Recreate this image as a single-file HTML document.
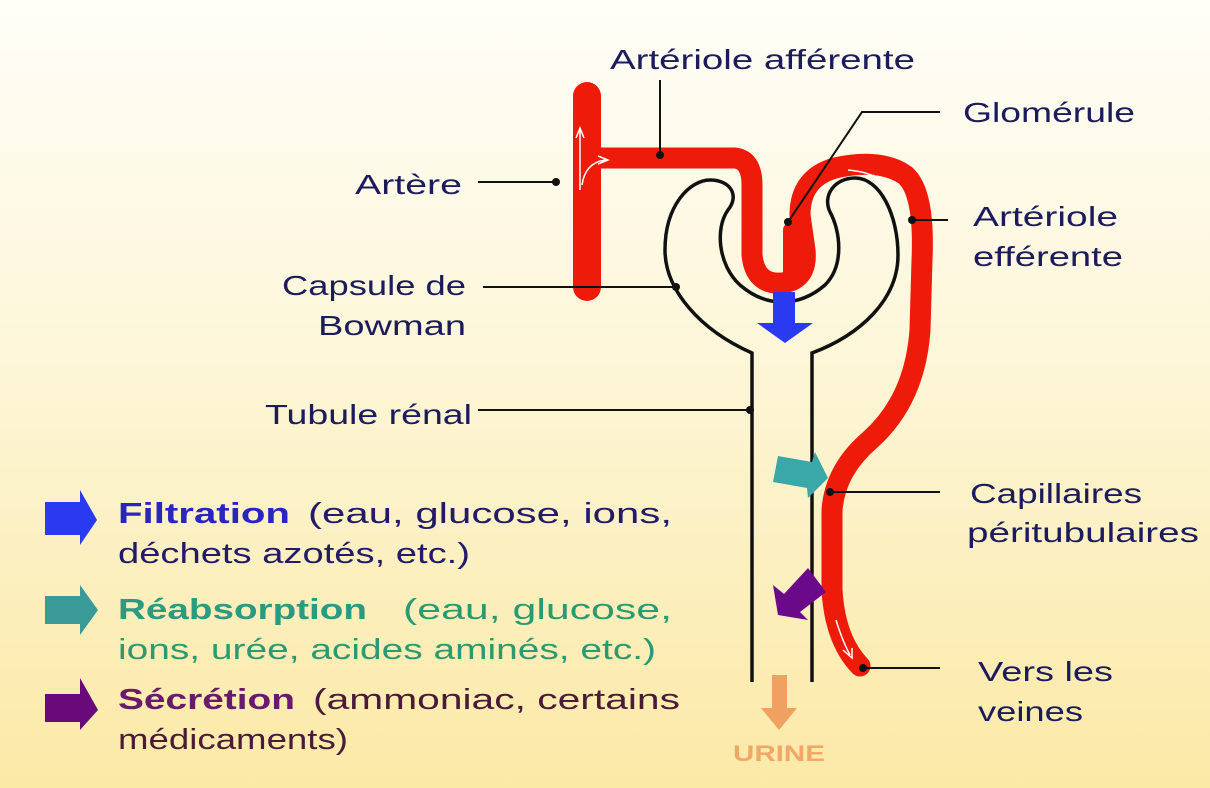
<!DOCTYPE html>
<html><head><meta charset="utf-8"><style>
html,body{margin:0;padding:0;}
body{width:1210px;height:788px;overflow:hidden;background:linear-gradient(#fffef8 0%,#fdf6d8 45%,#fbe9a6 100%);}
svg{display:block;}
text{font-family:"Liberation Sans","DejaVu Sans",sans-serif;}
</style></head><body>
<svg width="1210" height="788" viewBox="0 0 1210 788">
<g fill="#1c1c5c" font-size="28">
<text x="610" y="69" textLength="305" lengthAdjust="spacingAndGlyphs">Artériole afférente</text>
<text x="963" y="122" textLength="172" lengthAdjust="spacingAndGlyphs">Glomérule</text>
<text x="355" y="194" textLength="107" lengthAdjust="spacingAndGlyphs">Artère</text>
<text x="973" y="226" textLength="145" lengthAdjust="spacingAndGlyphs">Artériole</text>
<text x="973" y="266" textLength="150" lengthAdjust="spacingAndGlyphs">efférente</text>
<text x="282" y="295" textLength="184" lengthAdjust="spacingAndGlyphs">Capsule de</text>
<text x="318" y="335" textLength="148" lengthAdjust="spacingAndGlyphs">Bowman</text>
<text x="265" y="424" textLength="207" lengthAdjust="spacingAndGlyphs">Tubule rénal</text>
<text x="970" y="503" textLength="172" lengthAdjust="spacingAndGlyphs">Capillaires</text>
<text x="967" y="542" textLength="232" lengthAdjust="spacingAndGlyphs">péritubulaires</text>
<text x="978" y="681" textLength="135" lengthAdjust="spacingAndGlyphs">Vers les</text>
<text x="978" y="721" textLength="105" lengthAdjust="spacingAndGlyphs">veines</text>
</g>
<g fill="none" stroke="#ee1a0a" stroke-linecap="round" stroke-linejoin="round">
<line x1="587" y1="96" x2="587" y2="287" stroke-width="28"/>
<path d="M595,158 L735,158 Q752,160 752,185 L752,255 Q755,285 782,283 Q808,280 805,250 L800,215 Q800,178 835,168 Q880,158 905,175 Q925,192 922,260 L920,330 Q915,400 870,440 Q835,470 832,510 L832,590 Q835,640 860,666" stroke-width="21"/>
<path d="M790,280 L790,230" stroke-width="14"/>
</g>
<g fill="none" stroke="#fff" stroke-width="1.5">
<path d="M580,190 L580,130 M576,138 L580,128 L584,138"/>
<path d="M582,185 Q585,163 605,160 M598,156 L608,160 L598,164"/>
<path d="M848,170 Q870,172 880,180 M873,175 L882,182 L872,184"/>
<path d="M836,620 Q842,640 850,655 M843,650 L852,658 L852,648"/>
</g>
<path d="M752,682 L752,353 C700,330 665,290 665,250 C665,205 690,180 710,180 C730,180 740,195 728,210 C715,228 718,265 740,285 C755,298 770,302 782,302 C795,302 810,298 825,285 C845,265 840,230 830,212 C822,195 835,178 855,178 C880,178 898,215 898,255 C898,300 860,335 812,353 L812,682" fill="none" stroke="#111" stroke-width="3.5"/>
<polygon points="773,292 795,292 795,323 813,323 785,343 757,323 773,323" fill="#2a3af0"/>
<polygon points="778,456 812,462 815,452 828,478 808,498 807,488 773,482" fill="#3aa8a8"/>
<polygon points="808,568 826,592 800,612 808,620 778,615 773,585 784,594" fill="#6a0a8a"/>
<polygon points="772,675 787,675 787,708 797,708 779,730 761,708 772,708" fill="#f0a060"/>
<text x="779" y="761" text-anchor="middle" font-size="22" font-weight="bold" fill="#f0a868" textLength="92" lengthAdjust="spacingAndGlyphs">URINE</text>
<g stroke="#111" stroke-width="2" fill="none">
<line x1="660" y1="80" x2="660" y2="155"/>
<polyline points="940,112 862,112 788,222"/>
<line x1="478" y1="182" x2="556" y2="182"/>
<line x1="948" y1="220" x2="912" y2="220"/>
<line x1="483" y1="287" x2="676" y2="287"/>
<line x1="478" y1="410" x2="750" y2="410"/>
<line x1="940" y1="492" x2="830" y2="492"/>
<line x1="940" y1="668" x2="863" y2="668"/>
</g>
<g fill="#111">
<circle cx="660" cy="155" r="4"/><circle cx="788" cy="222" r="4"/><circle cx="556" cy="182" r="4"/>
<circle cx="912" cy="220" r="4"/><circle cx="676" cy="287" r="4"/><circle cx="750" cy="410" r="4"/>
<circle cx="830" cy="492" r="4"/><circle cx="863" cy="668" r="4"/>
</g>
<polygon points="45,502 80,502 80,490 97,520 80,545 80,535 45,535" fill="#2a3af0"/>
<polygon points="45,596 80,596 80,585 98,610 80,635 80,624 45,624" fill="#3a9a98"/>
<polygon points="45,694 80,694 80,678 98,710 80,730 80,722 45,722" fill="#6a0a7a"/>
<g font-size="29">
<text x="118" y="523" font-weight="bold" fill="#2a24c0" textLength="172" lengthAdjust="spacingAndGlyphs">Filtration</text>
<text x="308" y="523" fill="#241a6a" textLength="364" lengthAdjust="spacingAndGlyphs">(eau,   glucose,   ions,</text>
<text x="118" y="563" fill="#241a6a" textLength="352" lengthAdjust="spacingAndGlyphs">déchets azotés, etc.)</text>
<text x="118" y="619" font-weight="bold" fill="#2a9a80" textLength="249" lengthAdjust="spacingAndGlyphs">Réabsorption</text>
<text x="403" y="619" fill="#2a9a70" textLength="269" lengthAdjust="spacingAndGlyphs">(eau,     glucose,</text>
<text x="118" y="659" fill="#2a9a70" textLength="538" lengthAdjust="spacingAndGlyphs">ions, urée, acides aminés, etc.)</text>
<text x="118" y="709" font-weight="bold" fill="#6a1a6a" textLength="177" lengthAdjust="spacingAndGlyphs">Sécrétion</text>
<text x="313" y="709" fill="#4a1a3a" textLength="367" lengthAdjust="spacingAndGlyphs">(ammoniac,   certains</text>
<text x="118" y="749" fill="#4a1a3a" textLength="230" lengthAdjust="spacingAndGlyphs">médicaments)</text>
</g>
</svg>
</body></html>
